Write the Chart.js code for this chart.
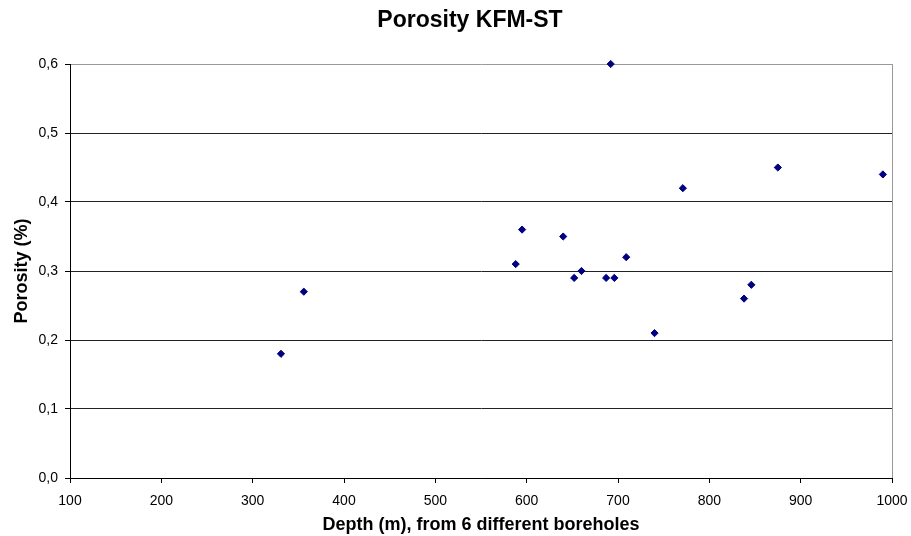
<!DOCTYPE html>
<html><head><meta charset="utf-8">
<script src="https://cdn.jsdelivr.net/npm/chart.js@4"></script>
<style>html,body{margin:0;padding:0;background:#fff}#wrap{width:911px;height:536px}</style>
</head><body><div id="wrap"><canvas id="c" width="911" height="536"></canvas></div>
<script>
const depths = [331, 356, 588, 595, 640, 652, 660, 687, 696, 709, 740, 692, 771, 838, 846, 875, 990];
const porosity = [0.18, 0.27, 0.31, 0.36, 0.35, 0.29, 0.30, 0.29, 0.29, 0.32, 0.21, 0.60, 0.42, 0.26, 0.28, 0.45, 0.44];
const xTicks = [100, 200, 300, 400, 500, 600, 700, 800, 900, 1000];
const yTicks = [0, 0.1, 0.2, 0.3, 0.4, 0.5, 0.6];
const titleText = 'Porosity KFM-ST';
const xTitle = 'Depth (m), from 6 different boreholes';
const yTitle = 'Porosity (%)';

const pts = depths.map((d, i) => ({x: d, y: porosity[i]}));
const FONT = '"Liberation Sans", Arial, sans-serif';

const titlePlugin = {
  id: 'mainTitle',
  afterDraw(chart) {
    const ctx = chart.ctx;
    ctx.save();
    ctx.font = 'bold 23px ' + FONT;
    ctx.fillStyle = '#000';
    ctx.textAlign = 'center';
    ctx.textBaseline = 'middle';
    ctx.fillText(titleText, 470, 21);
    ctx.restore();
  }
};

new Chart(document.getElementById('c'), {
  type: 'scatter',
  data: { datasets: [{ data: pts, pointStyle: 'rectRot', radius: 3.6, hoverRadius: 3.6, clip: false,
    backgroundColor: '#000080', borderColor: '#000080', borderWidth: 1 }] },
  options: {
    responsive: false, animation: false,
    layout: { padding: { left: 0, right: 19, top: 64, bottom: 0 } },
    plugins: { legend: { display: false }, tooltip: { enabled: false }, title: { display: false } },
    scales: {
      x: { type: 'linear', min: 100, max: 1000,
        afterBuildTicks: s => { s.ticks = xTicks.map(v => ({value: v})); },
        afterFit: s => { s.height = 58; s.paddingLeft = 0; s.paddingRight = 0; },
        ticks: { color: '#000', font: { family: FONT, size: 14 }, padding: 10, maxRotation: 0, autoSkip: false,
          callback: v => String(v) },
        grid: { drawOnChartArea: true, tickLength: 5, tickColor: '#000',
          color: c => (c.tick && c.tick.value === 1000) ? '#999' : 'rgba(0,0,0,0)' },
        border: { color: '#000', width: 1 },
        title: { display: true, text: xTitle, color: '#000', font: { family: FONT, size: 18, weight: 'bold' }, padding: { top: 0, bottom: 0 } }
      },
      y: { type: 'linear', min: 0, max: 0.6,
        afterBuildTicks: s => { s.ticks = yTicks.map(v => ({value: v})); },
        afterFit: s => { s.width = 70; s.paddingTop = 0; s.paddingBottom = 0; },
        ticks: { color: '#000', font: { family: FONT, size: 14 }, padding: 7,
          callback: v => v.toFixed(1).replace('.', ',') },
        grid: { tickLength: 5, tickColor: '#000',
          color: c => (c.tick && Math.abs(c.tick.value - 0.6) < 1e-9) ? '#999' : '#222' },
        border: { color: '#000', width: 1 },
        title: { display: true, text: yTitle, color: '#000', font: { family: FONT, size: 18, weight: 'bold' }, padding: { top: 11, bottom: 0 } }
      }
    }
  },
  plugins: [titlePlugin]
});
</script></body></html>
